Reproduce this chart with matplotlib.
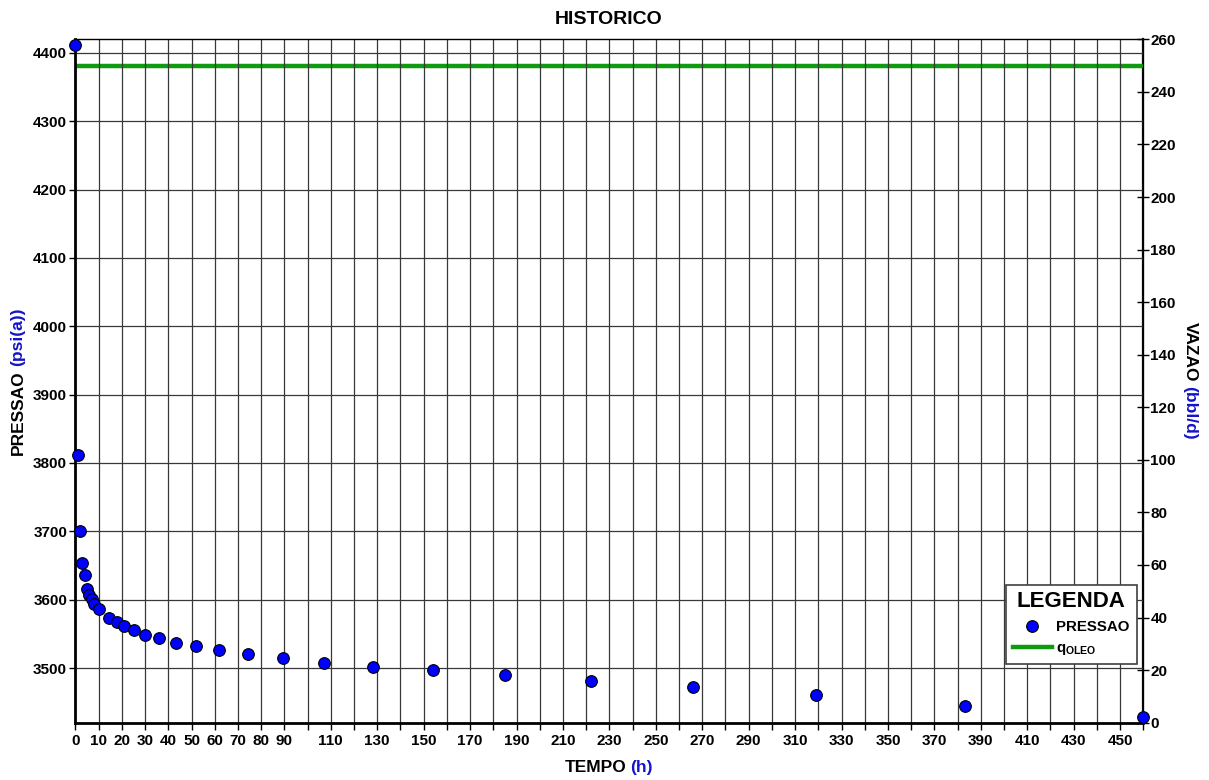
import matplotlib
matplotlib.use("Agg")
import matplotlib.pyplot as plt

plt.rcParams['font.family'] = ['Liberation Sans', 'DejaVu Sans']
plt.rcParams['font.weight'] = 'bold'
plt.rcParams['mathtext.fontset'] = 'custom'
plt.rcParams['mathtext.rm'] = 'Liberation Sans:bold'
plt.rcParams['mathtext.bf'] = 'Liberation Sans:bold'

# ---- data ----
tempo_h = [0.0, 1.0, 2.0, 3.0, 4.2, 5.0, 6.0, 7.0, 8.2, 10.2, 14.5, 17.7, 21.0,
           25.3, 29.9, 36.0, 43.2, 51.8, 62.0, 74.4, 89.3, 107.0, 128.0,
           154.0, 185.2, 222.1, 266.0, 318.9, 383.1, 460.0]
pressao_psia = [4411, 3812, 3700, 3653, 3636, 3616, 3607, 3601, 3593, 3586,
                3573, 3567, 3561, 3555, 3549, 3544, 3537, 3532, 3526, 3521,
                3515, 3508, 3502, 3497, 3490, 3481, 3472, 3460, 3445, 3429]
vazao_t = [0.0, 460.0]
vazao_bbl_d = [250.0, 250.0]

x_ticks = list(range(0, 461, 10))
x_tick_labels = [str(v) if (v <= 90 or (v - 110) % 20 == 0 and v >= 110) else '' for v in x_ticks]
y_left_ticks = list(range(3500, 4401, 100))
y_right_ticks = list(range(0, 261, 20))

BLUE_TXT = '#1414C8'
GREEN = '#109A10'
TICK_FS = 11

fig = plt.figure(figsize=(12.09, 7.8), dpi=100)
ax = fig.add_axes([0.0624, 0.0735, 0.8833, 0.8761])
ax2 = ax.twinx()

ax.set_xlim(0, 460)
ax.set_ylim(3420, 4420)
ax2.set_ylim(0, 260)

ax.set_xticks(x_ticks)
ax.set_xticklabels(x_tick_labels, fontsize=TICK_FS, fontweight='bold')
ax.set_yticks(y_left_ticks)
ax.set_yticklabels([str(v) for v in y_left_ticks], fontsize=TICK_FS, fontweight='bold')
ax2.set_yticks(y_right_ticks)
ax2.set_yticklabels([str(v) for v in y_right_ticks], fontsize=TICK_FS, fontweight='bold')

ax.tick_params(axis='x', direction='out', length=5, width=1, pad=3)
ax.tick_params(axis='y', direction='out', length=4, width=1, pad=2)
ax2.tick_params(axis='y', direction='inout', length=8, width=1, pad=1)

ax.grid(True, which='major', axis='both', color='0.22', lw=0.9)
ax.set_axisbelow(True)

for sp in ['left', 'bottom']:
    ax.spines[sp].set_linewidth(2.0)
ax.spines['top'].set_linewidth(1.0)
ax2.spines['right'].set_linewidth(1.6)
for sp in ['left', 'bottom', 'top']:
    ax2.spines[sp].set_visible(False)

ln_q, = ax2.plot(vazao_t, vazao_bbl_d, color=GREEN, lw=3.2, zorder=3,
                 label=r'q$_{\mathrm{OLEO}}$')
ax.set_zorder(ax2.get_zorder() + 1)
ax.patch.set_visible(False)
pts, = ax.plot(tempo_h, pressao_psia, 'o', color='#0000FF', mec='black', mew=0.8,
               ms=8.4, clip_on=False, zorder=5, label='PRESSAO')

leg = ax.legend(handles=[pts, ln_q], labels=['PRESSAO', r'q$_{\mathrm{OLEO}}$'],
                title='LEGENDA', loc='lower right', bbox_to_anchor=(0.9937, 0.0855),
                bbox_transform=ax.transAxes,
                fancybox=False, framealpha=1, edgecolor='0.25', fontsize=10.8,
                title_fontsize=16, handlelength=2.6, handletextpad=0.3,
                borderpad=0.45, labelspacing=0.5, borderaxespad=0)
leg.get_title().set_fontweight('bold')
leg.get_frame().set_linewidth(1.2)

fig.text(0.5037, 0.975, 'HISTORICO', ha='center', va='center', fontsize=14, fontweight='bold')

fig.canvas.draw()
r = fig.canvas.get_renderer()


def multicolor(x, y, parts, rotation=0, gap=4, fs=12.5):
    texts = []
    sizes = []
    for s, c in parts:
        t = fig.text(0, 0, s, color=c, fontsize=fs, fontweight='bold', rotation=rotation,
                     ha='center', va='center', transform=None)
        bb = t.get_window_extent(r)
        texts.append(t)
        sizes.append(bb.width if rotation == 0 else bb.height)
    total = sum(sizes) + gap * (len(parts) - 1)
    W, H = fig.bbox.width, fig.bbox.height
    cx, cy = x * W, y * H
    pos = -total / 2
    for t, sz in zip(texts, sizes):
        mid = pos + sz / 2
        if rotation == 0:
            t.set_position((cx + mid, cy))
        elif rotation == 90:
            t.set_position((cx, cy + mid))
        else:
            t.set_position((cx, cy - mid))
        pos += sz + gap


multicolor(0.5037, 0.0155, [('TEMPO', 'black'), ('(h)', BLUE_TXT)])
multicolor(0.0149, 0.511, [('PRESSAO', 'black'), ('(psi(a))', BLUE_TXT)], rotation=90)
multicolor(0.9843, 0.512, [('VAZAO', 'black'), ('(bbl/d)', BLUE_TXT)], rotation=-90)

fig.savefig('out.png', dpi=100)
